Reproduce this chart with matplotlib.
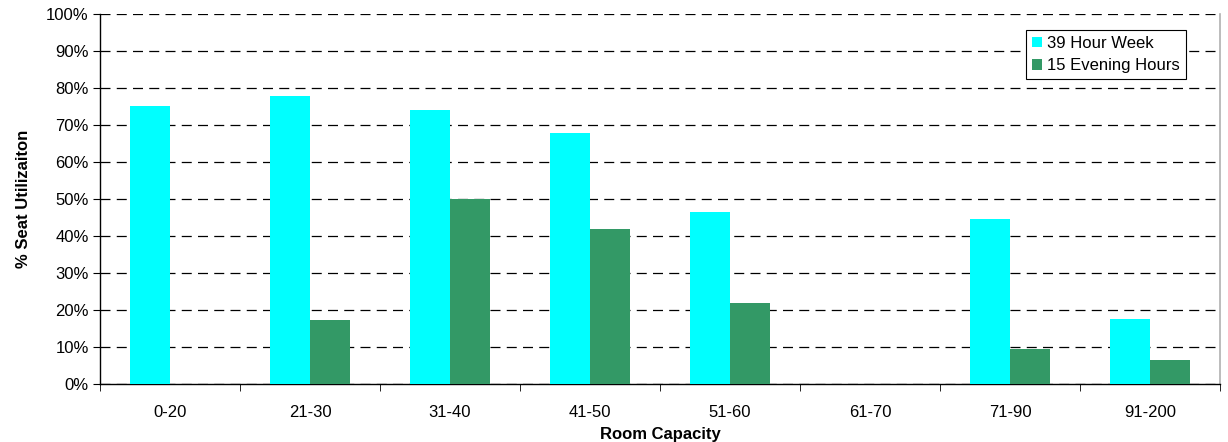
import numpy as np
import matplotlib
matplotlib.use("Agg")
import matplotlib.pyplot as plt
from matplotlib.ticker import FixedLocator, PercentFormatter

plt.rcParams['font.family'] = ['Liberation Sans', 'DejaVu Sans']

capacity = ['0-20', '21-30', '31-40', '41-50', '51-60', '61-70', '71-90', '91-200']
week_39h = [75.1, 77.8, 74.1, 67.8, 46.5, 0.0, 44.5, 17.6]
evening_15h = [0.0, 17.3, 50.0, 41.9, 21.9, 0.0, 9.5, 6.5]

fig = plt.figure(figsize=(12.28, 4.42), dpi=100)
ax = fig.add_axes([0.0814, 0.1312, 0.9121, 0.8371])

x = np.arange(len(capacity))
w = 0.286
ax.bar(x - w / 2, week_39h, w, color='#00FFFF', label='39 Hour Week', zorder=3)
ax.bar(x + w / 2, evening_15h, w, color='#339966', label='15 Evening Hours', zorder=3)

ax.set_xlim(-0.5, len(capacity) - 0.5)
ax.set_ylim(0, 100)
ax.set_yticks(np.arange(0, 101, 10))
ax.yaxis.set_major_formatter(PercentFormatter(decimals=0))
ax.yaxis.grid(True, linestyle=(0, (8, 5)), color='black', linewidth=0.9, zorder=0)

# category labels at centres, tick marks at the boundaries
ax.set_xticks(x)
ax.set_xticklabels(capacity)
ax.tick_params(axis='x', which='major', length=0, pad=15)
ax.xaxis.set_minor_locator(FixedLocator(np.arange(-0.5, len(capacity), 1)))
ax.tick_params(axis='x', which='minor', length=5, direction='out', color='black')
ax.tick_params(axis='y', length=5, direction='out', pad=3)
ax.tick_params(labelsize=12, labelcolor='black')

ax.spines['top'].set_visible(False)
ax.spines['right'].set_color('#b0b0b0')
ax.spines['right'].set_linewidth(1.2)
for s in ('left', 'bottom'):
    ax.spines[s].set_color('black')
    ax.spines[s].set_linewidth(1.0)

ax.set_xlabel('Room Capacity', fontsize=12, fontweight='bold', labelpad=5)
ax.set_ylabel('% Seat Utilizaiton', fontsize=12, fontweight='bold', labelpad=11)

leg = ax.legend(loc='upper right', bbox_to_anchor=(0.9695, 0.957), fontsize=12,
                frameon=True, fancybox=False, edgecolor='black', framealpha=1,
                handlelength=0.6, handleheight=0.6, handletextpad=0.3,
                borderpad=0.35, labelspacing=0.45, borderaxespad=0)
leg.get_frame().set_linewidth(0.8)

fig.savefig('out.png', dpi=100)
